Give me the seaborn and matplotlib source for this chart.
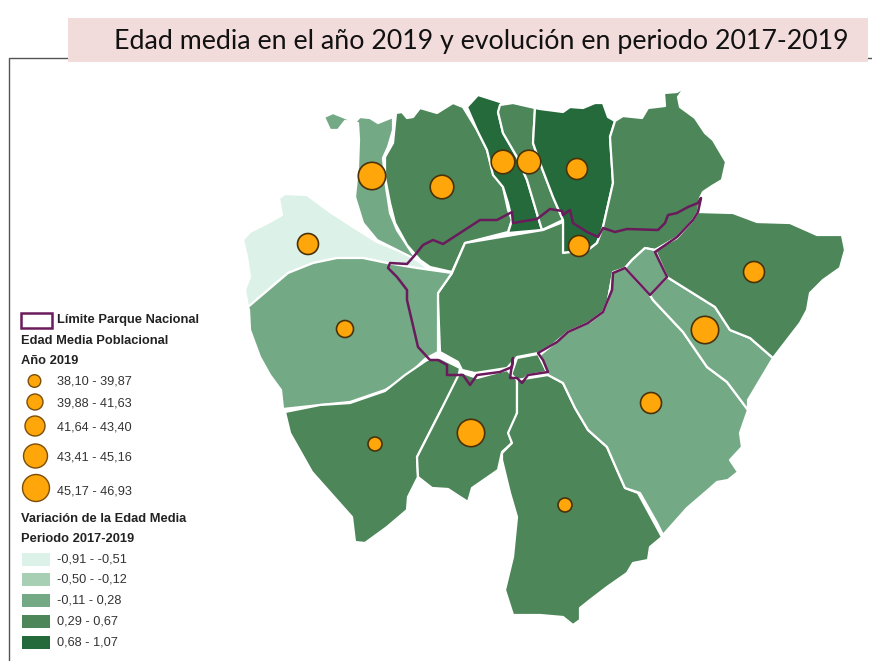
import matplotlib
matplotlib.use("Agg")
import matplotlib.pyplot as plt
from matplotlib.patches import Polygon, Rectangle
import pandas as pd
import seaborn as sns

sns.set_theme(style="white")
plt.rcParams['font.family'] = ['Liberation Sans', 'DejaVu Sans']

TITLE = "Edad media en el año 2019 y evolución en periodo 2017-2019"
VAR_LABELS = ["-0,91 - -0,51", "-0,50 - -0,12", "-0,11 - 0,28", "0,29 - 0,67", "0,68 - 1,07"]
VAR_COLORS = ["#DCF1E7", "#A6CFB3", "#74A986", "#4C8659", "#256A3B"]
AGE_LABELS = ["38,10 - 39,87", "39,88 - 41,63", "41,64 - 43,40", "43,41 - 45,16", "45,17 - 46,93"]

# Municipal outlines (map coordinates) and their class of variation
noroeste_claro = [(243,240),(250,232),(270,222),(282,215),(279,198),(285,194),(307,195),(330,212),(353,227),(377,242),(397,250),(413,257),(427,268),(443,272),(417,268),(387,263),(363,258),(337,258),(313,263),(288,273),(248,307),(245,290),(250,277),(247,257)]
oeste_franja = [(324,117),(333,113),(343,117),(355,122),(360,117),(370,118),(378,123),(393,117),(393,130),(388,147),(383,158),(385,180),(390,213),(397,230),(410,250),(417,260),(397,250),(377,240),(363,223),(355,197),(358,167),(359,140),(358,123),(345,121),(338,130),(330,130)]
noroeste = [(396,113),(402,112),(407,118),(413,117),(420,108),(437,113),(453,103),(463,107),(477,130),(487,150),(493,173),(503,187),(508,210),(512,220),(508,232),(465,243),(452,272),(430,267),(420,260),(407,245),(395,223),(390,203),(385,177),(385,157),(393,143)]
norte_oscuro1 = [(467,107),(478,95),(500,102),(503,105),(498,112),(503,133),(517,157),(527,180),(538,217),(542,230),(508,233),(512,220),(508,203),(503,187),(493,175),(487,150),(477,130)]
norte_medio = [(500,105),(513,103),(535,108),(533,143),(540,163),(553,197),(563,220),(542,230),(538,217),(527,180),(517,157),(503,133),(498,112)]
norte_oscuro2 = [(535,108),(540,109),(563,112),(570,107),(583,108),(595,103),(603,103),(608,117),(615,121),(610,137),(613,183),(603,227),(597,243),(588,250),(563,253),(563,220),(553,197),(540,163),(533,143)]
centro = [(615,121),(623,116),(642,118),(648,108),(665,106),(664,93),(677,92),(685,87),(678,97),(680,107),(695,118),(705,133),(713,140),(726,162),(722,180),(712,186),(703,192),(700,198),(698,212),(693,220),(677,237),(655,250),(645,248),(632,260),(625,268),(613,273),(608,300),(603,312),(588,323),(568,332),(557,342),(538,353),(517,357),(507,368),(475,373),(462,370),(458,362),(440,352),(438,300),(438,293),(452,273),(465,243),(543,230),(563,222),(563,253),(588,250),(597,243),(603,227),(613,183),(610,137)]
enclave = [(517,358),(538,354),(547,372),(528,375),(521,382),(510,378)]
oeste = [(248,307),(288,273),(313,263),(337,258),(363,258),(387,263),(417,268),(452,273),(438,293),(438,352),(425,359),(405,378),(385,390),(350,402),(320,405),(283,409),(281,390),(270,375),(260,357),(250,330),(249,310)]
suroeste = [(285,412),(320,405),(350,403),(385,391),(405,375),(427,360),(440,358),(460,368),(458,380),(440,412),(417,457),(418,477),(408,497),(407,510),(387,527),(365,543),(355,542),(352,517),(328,490),(312,472),(290,433)]
sur_centro = [(460,372),(477,378),(507,370),(517,380),(517,413),(510,437),(512,443),(502,452),(498,470),(472,488),(468,502),(448,489),(432,488),(418,477),(417,457),(440,412)]
sur = [(517,380),(548,375),(563,383),(575,408),(588,430),(607,447),(617,470),(625,488),(638,493),(662,537),(650,547),(648,560),(633,563),(627,573),(607,587),(590,600),(580,608),(580,620),(573,625),(563,617),(540,615),(513,615),(505,590),(513,557),(517,517),(510,493),(502,460),(502,453),(512,443),(508,433),(517,413)]
sureste = [(540,355),(568,332),(590,322),(603,312),(608,300),(613,272),(625,268),(650,295),(653,300),(683,332),(707,367),(727,382),(748,410),(740,433),(742,447),(730,460),(738,472),(728,480),(717,482),(708,490),(687,508),(663,535),(657,523),(640,493),(625,488),(617,470),(607,447),(588,430),(575,408),(563,383),(548,375)]
este_franja = [(650,295),(667,277),(715,307),(730,330),(750,338),(773,358),(748,400),(748,410),(727,382),(707,367),(683,332),(653,300)]
cuadro = [(625,268),(632,260),(645,248),(655,250),(667,277),(650,295)]
este = [(698,212),(733,213),(757,222),(790,223),(817,235),(842,235),(845,250),(840,268),(823,280),(810,293),(807,310),(800,323),(773,358),(750,338),(730,330),(715,307),(667,277),(655,250),(677,238),(693,220)]

REGIONS = [noroeste_claro, oeste_franja, noroeste, norte_oscuro1, norte_medio, norte_oscuro2,
           centro, enclave, oeste, suroeste, sur_centro, sur, sureste, este_franja, cuadro, este]
REGION_CLASS = [0, 2, 3, 4, 3, 4, 3, 3, 2, 3, 3, 3, 2, 2, 2, 3]

parque = [(390,263),(407,264),(415,255),(423,245),(433,240),(443,244),(460,233),(480,220),(497,220),(512,212),(513,223),(537,219),(550,209),(562,211),(563,215),(570,210),(573,223),(587,232),(598,237),(603,228),(615,232),(627,229),(658,230),(665,223),(668,215),(677,213),(688,207),(698,203),(701,198),(698,212),(693,220),(677,237),(655,252),(667,277),(650,295),(625,268),(613,273),(612,290),(605,307),(603,312),(588,323),(568,332),(557,342),(538,353),(543,360),(548,372),(528,375),(522,383),(517,378),(510,378),(513,358),(512,367),(500,372),(477,375),(470,385),(463,375),(447,375),(447,365),(438,360),(430,360),(418,347),(407,300),(407,290),(397,277),(388,268)]

# Average age circles
pt_x = [372,442,503,529,577,579,308,754,705,651,345,375,471,565]
pt_y = [176,187,162,162,169,246,244,272,330,403,329,444,433,505]
pt_class = [4,3,3,3,2,2,2,2,4,2,1,0,4,0]

fig = plt.figure(figsize=(8.72, 6.61), dpi=100, facecolor="white")
ax = fig.add_axes([0, 0, 1, 1])
ax.set_xlim(0, 872)
ax.set_ylim(661, 0)
ax.axis("off")

# Frame and title band
ax.plot([9, 9, 872], [661, 58, 58], color="#555555", lw=1, zorder=1)
ax.add_patch(Rectangle((68, 18), 800, 44, fc="#F2DCDB", ec="none", zorder=2))
ax.text(114, 42, TITLE, family="Lato", fontsize=19.3, color="#111111", va="center", ha="left", zorder=3)

# Map
for poly, cls in zip(REGIONS, REGION_CLASS):
    ax.add_patch(Polygon(poly, closed=True, fc=VAR_COLORS[cls], ec="white", lw=1.6, zorder=3, joinstyle="round"))
ax.add_patch(Polygon(parque, closed=True, fc="none", ec="#6A1B5C", lw=1.8, zorder=4, joinstyle="round"))

radii = [7, 8.5, 10.5, 11.8, 13.7]
size_map = {i: (2 * r * 0.72) ** 2 for i, r in enumerate(radii)}
df = pd.DataFrame({"x": pt_x, "y": pt_y, "clase": pt_class})
sns.scatterplot(data=df, x="x", y="y", size="clase", sizes=size_map, color="#FFA60A",
                edgecolor="#4A3208", linewidth=1.2, legend=False, ax=ax, zorder=5)

# Legend
bold = dict(fontsize=9.3, fontweight="bold", color="#222222", va="center", ha="left")
reg = dict(fontsize=9.2, color="#333333", va="center", ha="left")
ax.add_patch(Rectangle((20.5, 312.5), 31, 15, fc="white", ec="#6A1B5C", lw=1.8, zorder=4))
ax.text(57, 320.5, "Límite Parque Nacional", **bold)
ax.text(21, 341, "Edad Media Poblacional", **bold)
ax.text(21, 361, "Año 2019", **bold)
leg_y = [381, 402, 426, 456, 488]
leg_x = [34.5, 35, 35, 35.5, 36]
leg_r = [6.3, 8, 10, 12, 13.5]
leg_df = pd.DataFrame({"x": leg_x, "y": leg_y, "clase": range(5)})
leg_sizes = {i: (2 * r * 0.72) ** 2 for i, r in enumerate(leg_r)}
sns.scatterplot(data=leg_df, x="x", y="y", size="clase", sizes=leg_sizes, color="#FFA60A",
                edgecolor="#7A4E08", linewidth=1, legend=False, ax=ax, zorder=5)
for y, lab in zip([381, 403, 427, 457, 491], AGE_LABELS):
    ax.text(57, y, lab, **reg)
ax.text(21, 519, "Variación de la Edad Media", **bold)
ax.text(21, 539, "Periodo 2017-2019", **bold)
sw_y = [553, 573, 594, 615, 636]
for y, col, lab in zip(sw_y, VAR_COLORS, VAR_LABELS):
    ax.add_patch(Rectangle((22, y), 28, 13, fc=col, ec="none", zorder=4))
    ax.text(57, y + 6.5, lab, **reg)

ax.set_xlim(0, 872)
ax.set_ylim(661, 0)
ax.set_xlabel("")
ax.set_ylabel("")
fig.savefig("out.png", dpi=100, facecolor="white")
